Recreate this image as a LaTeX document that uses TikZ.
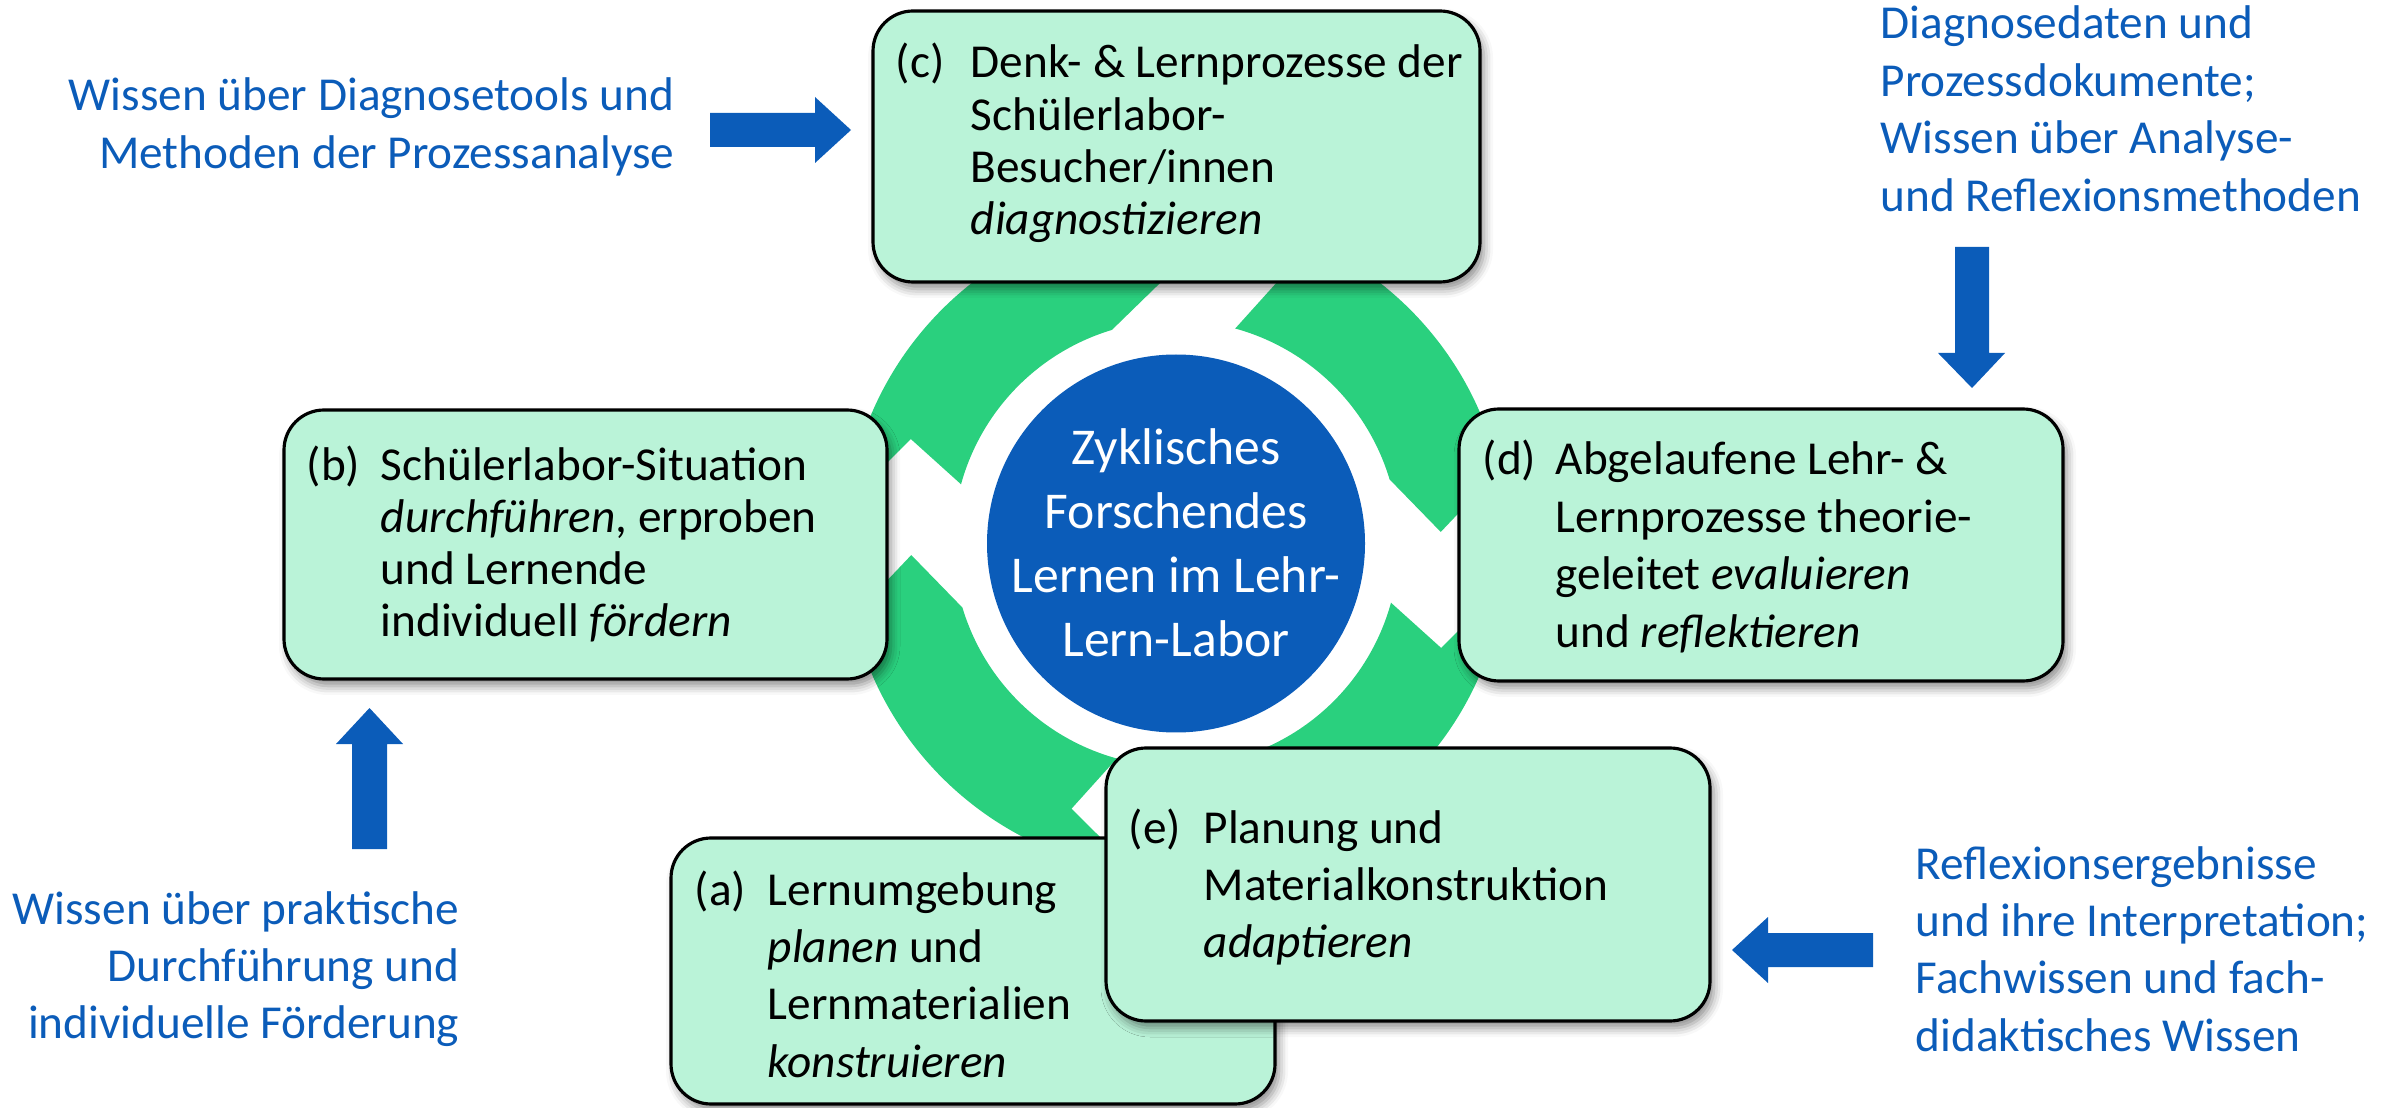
\documentclass[tikz,border=0pt]{standalone}
\usepackage{fontspec}
\setmainfont{Carlito}
\usetikzlibrary{shadows.blur}
\definecolor{ringgreen}{RGB}{42,208,126}
\definecolor{boxfill}{RGB}{186,243,216}
\definecolor{mainblue}{RGB}{11,92,185}
\newcommand{\boxfont}{\fontsize{13.45}{16.36}\selectfont}
\newcommand{\boxfonttight}{\fontsize{13.45}{14.8}\selectfont}
\newcommand{\circfont}{\fontsize{14.7}{18.2}\selectfont}
\newcommand{\ltab}[1]{\begin{tabular}[t]{@{}l@{}}#1\end{tabular}}
\newcommand{\rtab}[1]{\begin{tabular}[t]{@{}r@{}}#1\end{tabular}}
\newcommand{\ctab}[1]{\begin{tabular}[t]{@{}c@{}}#1\end{tabular}}
\tikzset{
  stagebox/.style={rectangle, rounded corners=4mm, draw=black, line width=0.9pt,
    fill=boxfill, inner sep=0pt,
    blur shadow={shadow xshift=0.4mm, shadow yshift=-0.7mm, shadow blur radius=0.9mm, shadow opacity=45}},
  boxtext/.style={inner sep=0pt, font=\boxfont, text=black},
  boxtexttight/.style={inner sep=0pt, font=\boxfonttight, text=black},
  bluetext/.style={inner sep=0pt, font=\boxfont, text=mainblue},
  blockarrow/.style={fill=mainblue, draw=none},
  ringpiece/.style={fill=ringgreen, draw=none}
}
\begin{document}
\begin{tikzpicture}[x=0.1mm, y=0.1mm]
\useasboundingbox (0,0) rectangle (2391,1107);
% ring of four circular arrows
\foreach \k in {0,1,2,3} {
  \begin{scope}[shift={(1176,563.5)}, rotate=90*\k]
    \fill[ringpiece] (-7.1:331) arc[start angle=-7.1, end angle=-77.3, radius=331]
      -- (-87.5:265) -- (-73.3:223) arc[start angle=-73.3, end angle=-15.4, radius=223]
      -- (-21.5:285) -- cycle;
  \end{scope}
}
% hub
\node[circle, fill=mainblue, minimum size=37.8mm, inner sep=0pt] (hub) at (1176,563.5) {};
\node[inner sep=0pt, font=\circfont, text=white, anchor=base] (hubtext) at (1176,642)
  {\ctab{Zyklisches\\Forschendes\\Lernen im Lehr-\\Lern-Labor}};
% boxes
\node[stagebox, minimum width=60.7mm, minimum height=27.1mm] (boxc) at (1176.5,960.5) {};
\node[stagebox, minimum width=60.3mm, minimum height=26.9mm] (boxb) at (585.5,562.5) {};
\node[stagebox, minimum width=60.4mm, minimum height=27.2mm] (boxd) at (1761,562) {};
\node[stagebox, minimum width=60.4mm, minimum height=26.6mm] (boxa) at (973,136) {};
\node[stagebox, minimum width=60.4mm, minimum height=27.3mm] (boxe) at (1408,222.5) {};
% box texts
\node[boxtexttight, anchor=base west] (labc) at (895,1029) {(c)};
\node[boxtexttight, anchor=base west] (txtc) at (970,1029)
  {\ltab{Denk- \& Lernprozesse der\\Schülerlabor-\\Besucher/innen\\\textit{diagnostizieren}}};
\node[boxtexttight, anchor=base west] (labb) at (306,626.5) {(b)};
\node[boxtexttight, anchor=base west] (txtb) at (380,626.5)
  {\ltab{Schülerlabor-Situation\\\textit{durchführen}, erproben\\und Lernende\\individuell \textit{fördern}}};
\node[boxtext, anchor=base west] (labd) at (1482,632) {(d)};
\node[boxtext, anchor=base west] (txtd) at (1555,632)
  {\ltab{Abgelaufene Lehr- \&\\Lernprozesse theorie-\\geleitet \textit{evaluieren}\\und \textit{reflektieren}}};
\node[boxtext, anchor=base west] (laba) at (694,202) {(a)};
\node[boxtext, anchor=base west] (txta) at (767,202)
  {\ltab{Lernumgebung\\\textit{planen} und\\Lernmaterialien\\\textit{konstruieren}}};
\node[boxtext, anchor=base west] (labe) at (1128,264) {(e)};
\node[boxtext, anchor=base west] (txte) at (1203,264)
  {\ltab{Planung und\\Materialkonstruktion\\\textit{adaptieren}}};
% knowledge labels
\node[bluetext, anchor=base east] (kTL) at (675,996)
  {\rtab{Wissen über Diagnosetools und\\Methoden der Prozessanalyse}};
\node[bluetext, anchor=base west] (kTR) at (1880,1068)
  {\ltab{Diagnosedaten und\\Prozessdokumente;\\Wissen über Analyse-\\und Reflexionsmethoden}};
\node[bluetext, anchor=base east] (kBL) at (460,183)
  {\rtab{Wissen über praktische\\Durchführung und\\individuelle Förderung}};
\node[bluetext, anchor=base west] (kBR) at (1915,228)
  {\ltab{Reflexionsergebnisse\\und ihre Interpretation;\\Fachwissen und fach-\\didaktisches Wissen}};
% block arrows
\fill[blockarrow] (710,960) -- (815,960) -- (815,944) -- (851,977) -- (815,1010) -- (815,994) -- (710,994) -- cycle;
\fill[blockarrow] (352,258) -- (352,363) -- (336,363) -- (369.5,399) -- (403,363) -- (387,363) -- (387,258) -- cycle;
\fill[blockarrow] (1955,860) -- (1955,754) -- (1938,754) -- (1972,719) -- (2005,754) -- (1989,754) -- (1989,860) -- cycle;
\fill[blockarrow] (1873,140) -- (1768,140) -- (1768,124) -- (1732,157) -- (1768,190) -- (1768,174) -- (1873,174) -- cycle;
\end{tikzpicture}
\end{document}
